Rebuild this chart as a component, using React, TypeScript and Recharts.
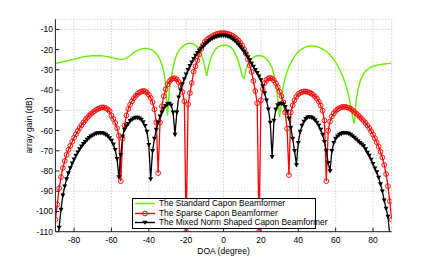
import React from "react";
import { LineChart, Line, XAxis, YAxis, CartesianGrid, Legend } from "recharts";

// DOA grid, degrees
const DOA = [
  -90, -89, -88, -87, -86, -85, -84, -83, -82, -81,
  -80, -79, -78, -77, -76, -75, -74, -73, -72, -71,
  -70, -69, -68, -67, -66, -65, -64, -63, -62, -61,
  -60, -59, -58, -57, -56, -55, -54, -53, -52, -51,
  -50, -49, -48, -47, -46, -45, -44, -43, -42, -41,
  -40, -39, -38, -37, -36, -35, -34, -33, -32, -31,
  -30, -29, -28, -27, -26, -25, -24, -23, -22, -21,
  -20, -19, -18, -17, -16, -15, -14, -13, -12, -11,
  -10, -9, -8, -7, -6, -5, -4, -3, -2, -1,
  0, 1, 2, 3, 4, 5, 6, 7, 8, 9,
  10, 11, 12, 13, 14, 15, 16, 17, 18, 19,
  20, 21, 22, 23, 24, 25, 26, 27, 28, 29,
  30, 31, 32, 33, 34, 35, 36, 37, 38, 39,
  40, 41, 42, 43, 44, 45, 46, 47, 48, 49,
  50, 51, 52, 53, 54, 55, 56, 57, 58, 59,
  60, 61, 62, 63, 64, 65, 66, 67, 68, 69,
  70, 71, 72, 73, 74, 75, 76, 77, 78, 79,
  80, 81, 82, 83, 84, 85, 86, 87, 88, 89,
  90,
];

// array gain (dB)
const STANDARD_CAPON = [
  -26.8, -26.6, -26.4, -26.2, -26.0, -25.8, -25.6, -25.4, -25.2, -25.0,
  -24.7, -24.5, -24.2, -24.0, -23.8, -23.6, -23.4, -23.3, -23.2, -23.1,
  -23.0, -23.0, -23.0, -23.0, -23.0, -23.1, -23.2, -23.3, -23.5, -23.7,
  -23.9, -24.1, -24.3, -24.5, -24.7, -24.8, -24.8, -24.6, -24.2, -23.6,
  -22.9, -22.2, -21.5, -20.9, -20.4, -20.0, -19.7, -19.5, -19.4, -19.4,
  -19.6, -19.9, -20.4, -21.1, -22.0, -23.3, -25.0, -27.5, -31.0, -37.0,
  -52.5, -40.0, -34.0, -28.5, -25.0, -22.3, -20.6, -19.4, -18.5, -17.8,
  -17.2, -16.9, -16.8, -16.9, -17.3, -17.9, -18.7, -20.2, -22.2, -25.0,
  -28.6, -33.0, -28.2, -24.8, -22.4, -20.7, -19.5, -18.7, -18.2, -17.9,
  -17.8, -17.8, -17.9, -18.3, -19.0, -20.0, -21.5, -23.5, -26.0, -29.2,
  -33.0, -34.2, -30.0, -27.5, -25.8, -24.6, -23.8, -23.3, -23.0, -22.9,
  -23.0, -23.3, -23.8, -24.6, -25.6, -27.2, -29.2, -32.5, -37.0, -44.0,
  -53.3, -45.0, -38.0, -34.0, -31.0, -28.5, -26.5, -24.8, -23.3, -22.1,
  -21.1, -20.3, -19.6, -19.1, -18.7, -18.4, -18.2, -18.2, -18.2, -18.3,
  -18.5, -18.8, -19.2, -19.7, -20.2, -20.9, -21.7, -22.6, -23.6, -24.8,
  -26.2, -27.8, -29.6, -31.6, -33.8, -36.3, -39.2, -43.0, -47.5, -53.0,
  -56.6, -45.0, -39.5, -36.0, -33.5, -31.8, -30.6, -29.8, -29.2, -28.7,
  -28.3, -28.0, -27.7, -27.5, -27.3, -27.2, -27.1, -27.0, -26.9, -26.8,
  -26.8,
];

const SPARSE_CAPON = [
  -104.0, -96.5, -88.5, -83.0, -78.5, -75.0, -72.0, -69.5, -67.5, -65.5,
  -63.5, -61.8, -60.2, -58.7, -57.3, -56.0, -54.8, -53.7, -52.7, -51.8,
  -51.0, -50.3, -49.7, -49.2, -48.8, -48.6, -48.6, -48.9, -49.5, -50.4,
  -52.6, -54.2, -56.2, -58.8, -62.5, -85.0, -64.0, -57.5, -52.5, -49.3,
  -47.2, -45.5, -44.0, -42.8, -41.9, -41.2, -40.7, -40.4, -40.6, -41.2,
  -42.3, -43.8, -46.0, -49.5, -56.0, -81.0, -56.0, -48.0, -43.0, -39.5,
  -37.2, -35.7, -34.7, -34.2, -34.2, -34.7, -36.0, -38.0, -41.0, -45.5,
  -110.0, -47.0, -41.5, -36.5, -30.9, -28.2, -25.4, -22.3, -19.7, -17.7,
  -16.2, -15.2, -14.5, -13.9, -13.3, -12.8, -12.4, -12.1, -11.9, -11.8,
  -11.8, -11.9, -12.1, -12.4, -12.8, -13.3, -13.9, -14.6, -15.5, -16.6,
  -18.0, -19.8, -22.0, -24.8, -27.8, -31.0, -35.5, -40.5, -46.5, -110.0,
  -45.0, -39.5, -36.5, -35.0, -34.2, -34.0, -34.3, -35.2, -36.6, -38.5,
  -40.8, -43.0, -46.0, -51.0, -59.0, -82.0, -51.0, -47.5, -45.0, -43.3,
  -42.0, -41.3, -40.9, -40.7, -40.7, -40.9, -41.2, -41.7, -42.3, -43.2,
  -44.3, -45.7, -47.6, -50.2, -55.0, -85.0, -60.0, -55.5, -53.0, -51.5,
  -50.3, -49.5, -48.9, -48.5, -48.3, -48.3, -48.5, -48.8, -49.3, -49.9,
  -50.8, -51.6, -52.4, -53.3, -54.2, -55.2, -56.3, -57.5, -58.8, -60.3,
  -62.0, -63.8, -65.8, -68.0, -70.5, -73.3, -77.0, -81.5, -87.5, -95.0,
  -104.0,
];

const MIXED_NORM = [
  -130.0, -116.0, -108.0, -99.0, -92.0, -87.5, -84.0, -81.0, -78.5, -76.2,
  -74.2, -72.4, -70.7, -69.2, -67.8, -66.6, -65.5, -64.5, -63.6, -62.9,
  -62.3, -61.8, -61.4, -61.2, -61.1, -61.2, -61.5, -62.0, -62.7, -63.7,
  -65.0, -66.8, -69.5, -74.0, -83.0, -72.0, -63.0, -59.5, -57.8, -56.6,
  -55.2, -54.5, -53.9, -53.6, -53.6, -53.9, -54.6, -55.8, -57.6, -60.5,
  -67.0, -84.0, -70.0, -64.0, -59.5, -56.0, -53.0, -51.0, -49.0, -47.7,
  -46.9, -46.6, -47.5, -51.0, -62.0, -51.0, -43.5, -40.0, -37.0, -34.5,
  -32.2, -30.0, -28.0, -26.2, -24.5, -22.9, -21.6, -20.4, -19.4, -18.4,
  -17.5, -16.6, -15.8, -15.1, -14.5, -14.0, -13.6, -13.3, -13.1, -13.0,
  -13.0, -13.1, -13.3, -13.7, -14.2, -14.8, -15.6, -16.5, -17.5, -18.6,
  -19.8, -21.0, -22.3, -23.7, -25.2, -26.8, -28.3, -30.0, -31.5, -33.2,
  -35.0, -38.0, -41.5, -45.0, -49.5, -56.0, -73.0, -55.0, -49.5, -47.4,
  -46.7, -46.6, -47.0, -48.2, -50.5, -54.0, -58.5, -64.0, -70.0, -77.0,
  -66.0, -60.5, -57.5, -55.5, -54.2, -53.5, -53.3, -53.5, -54.0, -54.8,
  -56.0, -57.5, -59.5, -62.0, -65.5, -70.0, -76.0, -80.0, -70.0, -66.0,
  -64.0, -62.8, -62.0, -61.5, -61.2, -61.1, -61.2, -61.5, -62.0, -62.7,
  -63.5, -64.3, -65.2, -66.0, -66.8, -67.7, -69.2, -70.9, -72.4, -74.3,
  -76.4, -78.6, -80.5, -83.2, -86.5, -90.0, -94.5, -98.5, -102.5, -112.0,
  -125.0,
];

const SERIES_NAMES = [
  "The Standard Capon Beamformer",
  "The Sparse Capon Beamformer",
  "The Mixed Norm Shaped Capon Beamformer",
];

const X_TICKS = [-80, -60, -40, -20, 0, 20, 40, 60, 80];
const Y_TICKS = [-110, -100, -90, -80, -70, -60, -50, -40, -30, -20, -10];

const GREEN = "#66ee00";
const RED = "#ff0000";
const BLACK = "#000000";
const FONT = "'Liberation Sans', Arial, Helvetica, sans-serif";

const data = DOA.map((doa, i) => ({
  doa,
  standard: STANDARD_CAPON[i],
  sparse: SPARSE_CAPON[i],
  mixed: MIXED_NORM[i],
}));

const tickStyle = { fontFamily: FONT, fontSize: 8.5, fill: "#000" };

function triPath(cx: number, cy: number) {
  return `M${cx - 2.5},${cy - 1.8}L${cx + 2.5},${cy - 1.8}L${cx},${cy + 2.6}Z`;
}

function TriangleDot(props: any) {
  const { cx, cy, index } = props;
  if (cx == null || cy == null) return <g key={`tri-${index}`} />;
  return <path key={`tri-${index}`} d={triPath(cx, cy)} fill={BLACK} />;
}

function LegendBox() {
  const colors = [GREEN, RED, BLACK];
  return (
    <div
      style={{
        width: 184,
        height: 31,
        boxSizing: "border-box",
        border: "1px solid #000",
        background: "#fff",
        fontFamily: FONT,
        fontSize: 8.4,
        color: "#000",
      }}
    >
      {SERIES_NAMES.map((name, i) => (
        <div
          key={name}
          style={{ display: "flex", alignItems: "center", height: 9.35, lineHeight: "9.35px", whiteSpace: "nowrap" }}
        >
          <svg width={20} height={9} style={{ marginLeft: 2.3, flex: "none" }}>
            <line x1={0} y1={4.5} x2={20} y2={4.5} stroke={colors[i]} strokeWidth={1.4} />
            {i === 1 && <circle cx={10} cy={4.5} r={2.4} fill="none" stroke={RED} strokeWidth={1} />}
            {i === 2 && <path d={triPath(10, 4.5)} fill={BLACK} />}
          </svg>
          <span style={{ marginLeft: 4 }}>{name}</span>
        </div>
      ))}
    </div>
  );
}

export default function App() {
  return (
    <div style={{ position: "absolute", left: 0, top: 0, width: 433, height: 261, background: "#fff" }}>
      <LineChart width={433} height={261} data={data} margin={{ top: 19.3, right: 41.3, bottom: 0, left: 0.4 }}>
        <CartesianGrid stroke="#aaaaaa" strokeDasharray="1 2" strokeWidth={0.8} />
        <XAxis
          dataKey="doa"
          type="number"
          domain={[-90, 90]}
          ticks={X_TICKS}
          allowDataOverflow
          height={29.3}
          tickSize={-4}
          tickMargin={8.8}
          tick={tickStyle}
          stroke="#222"
          label={{ value: "DOA (degree)", position: "center", dy: 4.5, style: { fontFamily: FONT, fontSize: 8.5, fill: "#000" } }}
        />
        <XAxis
          xAxisId="top"
          orientation="top"
          dataKey="doa"
          type="number"
          domain={[-90, 90]}
          ticks={X_TICKS}
          height={0}
          tickSize={-4}
          tick={false}
          stroke="#222"
        />
        <YAxis
          type="number"
          domain={[-110, -5]}
          ticks={Y_TICKS}
          allowDataOverflow
          width={55}
          tickSize={-4}
          tickMargin={6.4}
          tick={tickStyle}
          stroke="#222"
          label={{ value: "array gain (dB)", angle: -90, position: "center", dx: 1, style: { fontFamily: FONT, fontSize: 8.5, fill: "#000", textAnchor: "middle" } }}
        />
        <YAxis
          yAxisId="right"
          orientation="right"
          type="number"
          domain={[-110, -5]}
          ticks={Y_TICKS}
          width={0}
          tickSize={-4}
          tick={false}
          stroke="#222"
        />
        <Line
          dataKey="standard"
          name={SERIES_NAMES[0]}
          type="linear"
          stroke={GREEN}
          strokeWidth={1.4}
          dot={false}
          activeDot={false}
          isAnimationActive={false}
        />
        <Line
          dataKey="sparse"
          name={SERIES_NAMES[1]}
          type="linear"
          stroke={RED}
          strokeWidth={1.3}
          dot={{ r: 2.4, fill: "none", stroke: RED, strokeWidth: 0.9 }}
          activeDot={false}
          isAnimationActive={false}
        />
        <Line
          dataKey="mixed"
          name={SERIES_NAMES[2]}
          type="linear"
          stroke={BLACK}
          strokeWidth={1.3}
          dot={TriangleDot}
          activeDot={false}
          isAnimationActive={false}
        />
        <Legend
          layout="vertical"
          align="center"
          verticalAlign="middle"
          content={<LegendBox />}
          wrapperStyle={{ left: 131.7, top: 198.3, width: 184, height: 31 }}
        />
      </LineChart>
    </div>
  );
}
